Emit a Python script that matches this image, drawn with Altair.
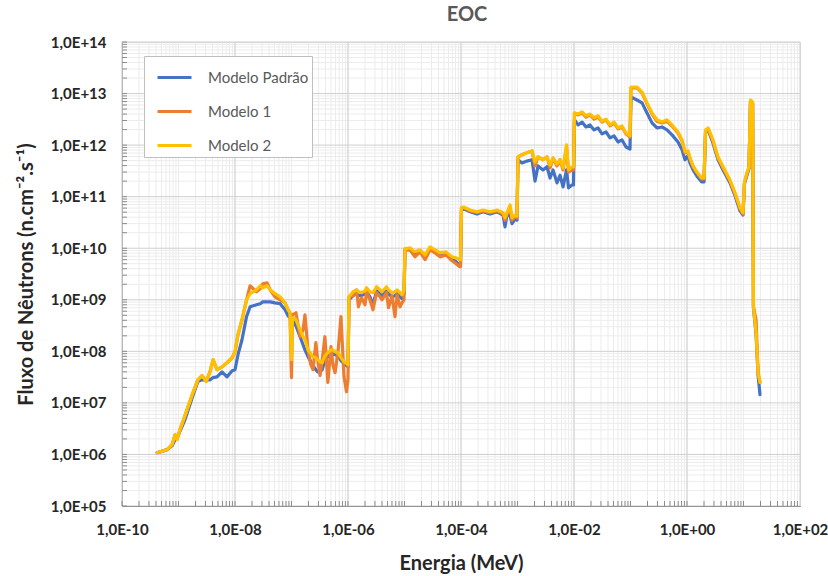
import altair as alt
import pandas as pd

# Energy grid (MeV)
energy = [
    4.2e-10, 6.3e-10, 7.7e-10, 8.7e-10, 9.4e-10, 1.06e-9, 1.3e-9, 1.7e-9, 2.2e-9, 2.6e-9,
    3.1e-9, 3.6e-9, 4.1e-9, 4.8e-9, 5.9e-9, 7.2e-9, 8.9e-9, 1.0e-8, 1.13e-8, 1.33e-8,
    1.6e-8, 1.85e-8, 2.4e-8, 2.8e-8, 3.1e-8, 3.7e-8, 4.2e-8, 5.1e-8, 6.3e-8, 7.7e-8,
    8.7e-8, 9.4e-8,
    1.0e-7, 1.04e-7, 1.2e-7, 1.42e-7, 1.6e-7, 1.73e-7, 1.96e-7, 2.2e-7, 2.4e-7, 2.7e-7,
    2.9e-7, 3.2e-7, 3.5e-7, 3.9e-7, 4.4e-7, 5.0e-7, 5.4e-7, 5.9e-7, 6.7e-7, 7.5e-7,
    8.5e-7, 9.4e-7, 1.0e-6, 1.04e-6,
    1.23e-6, 1.42e-6, 1.53e-6, 1.73e-6, 2.0e-6, 2.13e-6, 2.45e-6, 2.77e-6, 3.2e-6, 3.69e-6,
    4.0e-6, 4.81e-6, 5.21e-6, 6.01e-6, 6.79e-6, 7.38e-6, 8.34e-6, 9.04e-6, 9.8e-6, 1.02e-5,
    1.25e-5, 1.53e-5, 1.88e-5, 2.31e-5, 2.83e-5, 3.47e-5, 4.26e-5, 5.43e-5, 6.93e-5, 8.17e-5,
    9.4e-5, 9.8e-5, 1.02e-4,
    1.11e-4, 1.45e-4, 1.92e-4, 2.45e-4, 3.27e-4, 4.35e-4, 5.55e-4, 6.01e-4, 6.52e-4, 7.38e-4,
    8.0e-4, 9.04e-4, 9.8e-4, 1.02e-3,
    1.2e-3, 1.47e-3, 1.81e-3, 2.04e-3, 2.31e-3, 2.83e-3, 3.33e-3, 3.77e-3, 4.26e-3, 5.0e-3,
    5.66e-3, 6.4e-3, 7.38e-3, 8.0e-3, 9.2e-3, 9.8e-3, 1.02e-2,
    1.18e-2, 1.39e-2, 1.63e-2, 1.92e-2, 2.26e-2, 2.66e-2, 3.13e-2, 3.69e-2, 4.34e-2, 5.11e-2,
    6.01e-2, 7.08e-2, 8.34e-2, 9.8e-2, 1.02e-1,
    0.13, 0.16, 0.196, 0.24, 0.294, 0.361, 0.443, 0.543, 0.693, 0.817,
    0.922, 1.04, 1.13, 1.28, 1.50, 1.81, 2.0, 2.13,
    2.36, 2.88, 3.54, 4.35, 5.77, 7.08, 8.67, 9.8, 10.4, 11.5,
    12.5, 13.3, 14.5, 15.0, 16.7, 18.1, 19.6,
]

modelo_padrao = [
    1.08e6, 1.24e6, 1.48e6, 1.94e6, 2.1e6, 2.8e6, 4.7e6, 1.15e7, 2.6e7, 2.8e7,
    2.8e7, 2.8e7, 3.1e7, 3.2e7, 4.0e7, 3.2e7, 4.2e7, 4.4e7, 8.6e7, 1.68e8,
    4.7e8, 7.3e8, 8.0e8, 8.4e8, 9.1e8, 9.1e8, 9.1e8, 8.7e8, 8.4e8, 6.4e8,
    4.9e8, 4.5e8,
    4.3e8, 4.1e8, 3.1e8, 1.92e8, 1.34e8, 1.07e8, 7.9e7, 6.3e7, 5.3e7, 4.4e7,
    4.0e7, 4.0e7, 4.4e7, 6.9e7, 7.9e7, 9.0e7, 9.0e7, 8.6e7, 8.2e7, 6.6e7,
    5.8e7, 5.3e7, 5.0e7, 1.0e9,
    1.20e9, 1.37e9, 1.20e9, 1.20e9, 1.31e9, 1.43e9, 1.14e9, 8.0e8, 1.49e9, 1.31e9,
    1.20e9, 1.49e9, 1.31e9, 1.14e9, 1.20e9, 1.31e9, 1.14e9, 1.05e9, 1.31e9, 9.3e9,
    9.3e9, 7.8e9, 8.5e9, 6.8e9, 9.7e9, 8.5e9, 7.4e9, 7.8e9, 6.2e9, 5.5e9,
    4.6e9, 4.6e9, 5.5e10,
    5.8e10, 5.1e10, 4.6e10, 5.1e10, 4.6e10, 5.1e10, 4.4e10, 2.6e10, 4.4e10, 4.4e10,
    3.0e10, 3.7e10, 3.5e10, 5.2e11,
    4.5e11, 4.9e11, 5.2e11, 2.0e11, 3.95e11, 3.3e11, 3.8e11, 2.3e11, 3.3e11, 1.85e11,
    2.6e11, 1.55e11, 3.3e11, 1.48e11, 1.69e11, 1.69e11, 3.1e12,
    2.46e12, 2.8e12, 2.25e12, 2.46e12, 1.97e12, 2.15e12, 1.65e12, 1.80e12, 1.38e12, 1.51e12,
    1.15e12, 1.26e12, 9.2e11, 8.4e11, 8.6e12,
    7.5e12, 6.6e12, 4.2e12, 2.7e12, 2.15e12, 2.25e12, 1.97e12, 1.58e12, 1.15e12, 8.1e11,
    5.2e11, 6.2e11, 4.5e11, 3.3e11, 2.5e11, 1.94e11, 1.94e11, 1.80e12,
    1.97e12, 1.10e12, 5.2e11, 3.3e11, 1.85e11, 1.04e11, 5.3e10, 4.4e10, 1.77e11, 2.6e11,
    3.5e11, 6.9e12, 6.3e12, 7.0e8, 2.1e8, 3.5e7, 1.44e7,
]

modelo_1 = [
    1.08e6, 1.24e6, 1.55e6, 2.4e6, 1.94e6, 3.0e6, 5.6e6, 1.32e7, 2.8e7, 3.4e7,
    2.6e7, 4.0e7, 6.9e7, 4.4e7, 5.0e7, 6.0e7, 7.5e7, 9.8e7, 2.1e8, 4.1e8,
    1.0e9, 1.87e9, 1.43e9, 1.63e9, 2.04e9, 2.13e9, 1.56e9, 1.14e9, 1.0e9, 8.7e8,
    6.4e8, 5.6e8,
    3.1e7, 5.1e8, 5.6e8, 1.92e8, 2.6e8, 5.1e8, 1.07e8, 5.5e7, 4.4e7, 1.47e8,
    6.9e7, 3.4e7, 6.9e7, 1.92e8, 2.5e7, 1.23e8, 5.5e7, 3.85e7, 1.07e8, 4.7e8,
    3.2e7, 1.65e7, 2.8e7, 1.14e9,
    1.20e9, 1.56e9, 7.3e8, 1.09e9, 8.0e8, 1.43e9, 1.0e9, 6.4e8, 1.37e9, 1.14e9,
    1.0e9, 1.37e9, 7.0e8, 1.20e9, 4.7e8, 1.25e9, 7.3e8, 8.7e8, 1.0e9, 9.7e9,
    9.3e9, 6.8e9, 8.5e9, 6.0e9, 9.3e9, 8.1e9, 6.8e9, 7.4e9, 5.7e9, 5.0e9,
    4.4e9, 4.4e9, 6.1e10,
    6.1e10, 5.3e10, 4.9e10, 5.3e10, 4.9e10, 5.3e10, 4.6e10, 3.5e10, 4.6e10, 6.3e10,
    3.5e10, 4.1e10, 3.9e10, 5.9e11,
    6.5e11, 7.1e11, 7.7e11, 3.95e11, 5.9e11, 5.2e11, 5.9e11, 3.6e11, 5.6e11, 3.95e11,
    5.2e11, 3.3e11, 9.2e11, 3.0e11, 3.3e11, 3.3e11, 4.2e12,
    3.85e12, 4.2e12, 3.5e12, 3.85e12, 3.2e12, 3.5e12, 2.8e12, 3.1e12, 2.35e12, 2.7e12,
    2.06e12, 2.25e12, 1.65e12, 1.44e12, 1.29e13,
    1.29e13, 1.03e13, 6.3e12, 4.0e12, 2.9e12, 2.7e12, 2.9e12, 2.35e12, 1.72e12, 1.20e12,
    7.1e11, 7.4e11, 5.4e11, 3.8e11, 2.9e11, 2.2e11, 2.2e11, 1.88e12,
    2.06e12, 1.20e12, 5.6e11, 3.6e11, 2.0e11, 1.13e11, 5.8e10, 4.6e10, 1.85e11, 2.8e11,
    3.6e11, 7.2e12, 6.6e12, 7.3e8, 4.1e8, 3.85e7, 2.5e7,
]

modelo_2 = [
    1.08e6, 1.24e6, 1.55e6, 2.4e6, 1.94e6, 3.0e6, 5.6e6, 1.32e7, 2.8e7, 3.4e7,
    2.6e7, 4.0e7, 6.9e7, 4.4e7, 5.0e7, 6.0e7, 7.5e7, 9.8e7, 2.1e8, 4.1e8,
    1.0e9, 1.31e9, 1.56e9, 1.87e9, 1.71e9, 1.87e9, 1.56e9, 1.31e9, 1.14e9, 8.7e8,
    6.4e8, 5.6e8,
    6.9e7, 4.5e8, 4.1e8, 2.6e8, 1.92e8, 1.68e8, 1.07e8, 9.0e7, 7.9e7, 7.5e7,
    6.9e7, 6.3e7, 6.0e7, 8.2e7, 9.4e7, 1.07e8, 1.07e8, 9.8e7, 9.4e7, 7.5e7,
    6.3e7, 5.8e7, 5.5e7, 1.14e9,
    1.43e9, 1.56e9, 1.43e9, 1.37e9, 1.49e9, 1.71e9, 1.43e9, 1.37e9, 1.79e9, 1.56e9,
    1.43e9, 1.79e9, 1.56e9, 1.37e9, 1.43e9, 1.56e9, 1.37e9, 1.25e9, 1.56e9, 9.7e9,
    1.02e10, 8.5e9, 9.3e9, 7.4e9, 1.06e10, 9.3e9, 8.1e9, 8.5e9, 6.8e9, 6.5e9,
    6.0e9, 6.0e9, 6.1e10,
    6.3e10, 5.5e10, 5.1e10, 5.5e10, 5.1e10, 5.5e10, 4.9e10, 3.9e10, 4.9e10, 6.9e10,
    3.9e10, 4.4e10, 4.2e10, 5.9e11,
    6.5e11, 7.1e11, 7.7e11, 4.7e11, 5.9e11, 5.2e11, 5.9e11, 4.1e11, 5.6e11, 4.3e11,
    5.2e11, 3.6e11, 1.01e12, 3.3e11, 3.8e11, 3.8e11, 4.2e12,
    4.0e12, 4.4e12, 3.7e12, 4.0e12, 3.4e12, 3.7e12, 2.9e12, 3.2e12, 2.46e12, 2.8e12,
    2.15e12, 2.35e12, 1.72e12, 1.51e12, 1.34e13,
    1.34e13, 1.07e13, 6.6e12, 4.2e12, 3.1e12, 2.8e12, 3.1e12, 2.46e12, 1.80e12, 1.26e12,
    7.4e11, 7.7e11, 5.6e11, 3.95e11, 3.0e11, 2.3e11, 2.3e11, 1.97e12,
    2.15e12, 1.26e12, 5.9e11, 3.8e11, 2.1e11, 1.19e11, 6.1e10, 4.9e10, 1.94e11, 2.9e11,
    3.8e11, 7.5e12, 6.9e12, 7.3e8, 2.3e8, 3.85e7, 2.5e7,
]

series_names = ["Modelo Padrão", "Modelo 1", "Modelo 2"]
series_colors = ["#4472C4", "#ED7D31", "#FFC000"]
series_values = [modelo_padrao, modelo_1, modelo_2]

# axis tick positions
x_major = [10.0 ** n for n in range(-10, 3, 2)]
x_minor = [k * 10.0 ** n for n in range(-10, 2) for k in range(1, 10)]
y_major = [10.0 ** n for n in range(5, 15)]
y_minor = [k * 10.0 ** n for n in range(5, 14) for k in range(2, 10)]

FONT = "Lato"
W, H = 678, 464

x_scale = alt.Scale(type="log", domain=[1e-10, 1e2], nice=False)
y_scale = alt.Scale(type="log", domain=[1e5, 1e14], nice=False)
color_scale = alt.Scale(domain=series_names, range=series_colors)

label_expr = (
    "'1,0E' + (datum.value >= 1 ? '+' : '-') + "
    "(abs(round(log(datum.value)/LN10)) < 10 ? '0' : '') + "
    "abs(round(log(datum.value)/LN10))"
)

x_axis = alt.Axis(
    values=x_major, labelExpr=label_expr, title="Energia (MeV)", grid=False,
    ticks=False, domainColor="#595959", domainWidth=1,
    labelFont=FONT, labelFontWeight="bold", labelFontSize=15, labelColor="#262626",
    labelPadding=16, labelFlush=False, labelOverlap=False,
    titleFont=FONT, titleFontSize=20, titleFontWeight="bold", titleColor="#262626",
    titlePadding=16,
)
y_axis = alt.Axis(
    values=y_major, labelExpr=label_expr, title="Fluxo de Nêutrons (n.cm⁻².s⁻¹)",
    grid=False, ticks=False, domainColor="#595959", domainWidth=1,
    labelFont=FONT, labelFontWeight="bold", labelFontSize=15, labelColor="#262626",
    labelPadding=16, labelFlush=False, labelOverlap=False,
    titleFont=FONT, titleFontSize=20, titleFontWeight="bold", titleColor="#262626",
    titlePadding=14,
)

legend = alt.Legend(
    title=None, orient="none", legendX=22, legendY=14,
    symbolType="stroke", symbolSize=1156, symbolStrokeWidth=3, symbolOffset=9,
    labelFont=FONT, labelFontSize=15, labelColor="#595959", labelOffset=15,
    rowPadding=7, padding=3, fillColor="white", strokeColor="#bfbfbf",
)

minor_x_rules = alt.Chart(pd.DataFrame({"x": x_minor})).mark_rule(
    color="#ececec", strokeWidth=1
).encode(x=alt.X("x:Q", scale=x_scale, axis=x_axis))
minor_y_rules = alt.Chart(pd.DataFrame({"y": y_minor})).mark_rule(
    color="#ececec", strokeWidth=1
).encode(y=alt.Y("y:Q", scale=y_scale, axis=y_axis))
major_x_rules = alt.Chart(pd.DataFrame({"x": x_major})).mark_rule(
    color="#cfcfcf", strokeWidth=1
).encode(x=alt.X("x:Q", scale=x_scale, axis=x_axis))
major_y_rules = alt.Chart(pd.DataFrame({"y": y_major})).mark_rule(
    color="#cfcfcf", strokeWidth=1
).encode(y=alt.Y("y:Q", scale=y_scale, axis=y_axis))

x_ticks = alt.Chart(pd.DataFrame({"x": x_minor})).mark_rule(
    color="#8c8c8c", strokeWidth=1
).encode(x=alt.X("x:Q", scale=x_scale, axis=x_axis), y=alt.value(H - 5), y2=alt.value(H))
y_ticks = alt.Chart(pd.DataFrame({"y": y_minor + y_major})).mark_rule(
    color="#8c8c8c", strokeWidth=1
).encode(y=alt.Y("y:Q", scale=y_scale, axis=y_axis), x=alt.value(0), x2=alt.value(5))

line_layers = []
for name, vals in zip(series_names, series_values):
    df = pd.DataFrame({"energy": energy, "flux": vals, "series": name})
    line_layers.append(
        alt.Chart(df).mark_line(strokeWidth=3.2, strokeJoin="round", strokeCap="round").encode(
            x=alt.X("energy:Q", scale=x_scale, axis=x_axis),
            y=alt.Y("flux:Q", scale=y_scale, axis=y_axis),
            color=alt.Color("series:N", scale=color_scale, legend=legend),
        )
    )

chart = alt.layer(
    minor_x_rules, minor_y_rules, major_x_rules, major_y_rules, x_ticks, y_ticks, *line_layers
).properties(
    width=W, height=H,
    title=alt.TitleParams(
        "EOC", font=FONT, fontSize=20, fontWeight="bold", color="#595959",
        anchor="middle", offset=10, dx=6,
    ),
    padding={"left": 122, "top": 42, "right": 28, "bottom": 70},
    autosize=alt.AutoSizeParams(type="none"),
).configure_view(stroke="#8c8c8c", strokeWidth=1).configure(background="white")

chart.save("out.html", embed_options={"renderer": "svg", "actions": False})
